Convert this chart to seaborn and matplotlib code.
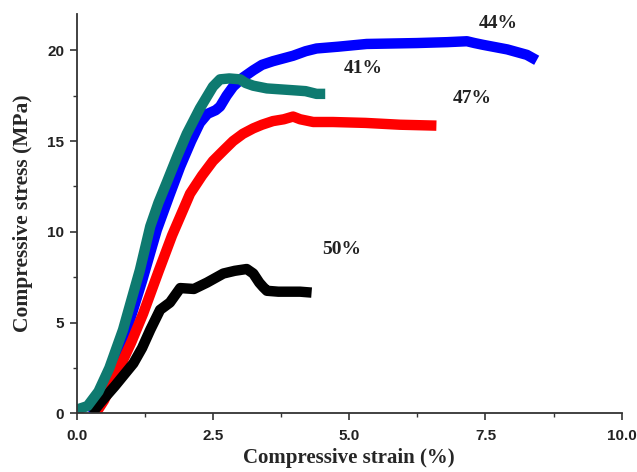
import matplotlib
matplotlib.use("Agg")
import matplotlib.pyplot as plt
from matplotlib.ticker import MultipleLocator, FormatStrFormatter
import pandas as pd
import seaborn as sns

# ── Data (strain %, stress MPa) ────────────────────────────────
strain_44 = [0.25, 0.4, 0.6, 0.9, 1.2, 1.47, 1.7, 1.9, 2.1, 2.26, 2.4, 2.55,
             2.63, 2.75, 2.87, 3.05, 3.24, 3.4, 3.6, 3.97, 4.2, 4.4, 4.8,
             5.32, 6.24, 6.8, 7.16, 7.3, 7.46, 7.9, 8.26, 8.44]
stress_44 = [0.0, 0.5, 1.8, 4.4, 7.3, 10.1, 12.0, 13.6, 15.0, 16.0, 16.5, 16.7,
             16.9, 17.5, 18.0, 18.5, 18.9, 19.2, 19.4, 19.7, 19.95, 20.1, 20.2,
             20.35, 20.4, 20.45, 20.5, 20.4, 20.3, 20.05, 19.75, 19.45]

strain_47 = [0.35, 0.5, 0.74, 1.0, 1.22, 1.5, 1.75, 2.08, 2.3, 2.5, 2.7, 2.87,
             3.05, 3.24, 3.4, 3.6, 3.8, 3.97, 4.1, 4.34, 4.7, 5.3, 5.93, 6.6]
stress_47 = [0.0, 0.7, 2.2, 3.9, 5.5, 7.8, 9.8, 12.1, 13.1, 13.9, 14.5, 15.0,
             15.4, 15.7, 15.9, 16.1, 16.2, 16.35, 16.2, 16.05, 16.05, 16.0,
             15.9, 15.85]

strain_50 = [0.28, 0.43, 0.7, 1.04, 1.2, 1.35, 1.53, 1.62, 1.71, 1.9, 2.15,
             2.39, 2.69, 2.9, 3.12, 3.24, 3.35, 3.42, 3.49, 3.7, 4.1, 4.31]
stress_50 = [0.0, 0.57, 1.5, 2.75, 3.6, 4.6, 5.7, 5.9, 6.1, 6.9, 6.85,
             7.2, 7.7, 7.85, 7.95, 7.7, 7.2, 6.96, 6.75, 6.7, 6.7, 6.65]

strain_41 = [0.0, 0.2, 0.4, 0.6, 0.85, 1.0, 1.16, 1.35, 1.5, 1.65, 1.85, 2.02,
             2.26, 2.4, 2.5, 2.63, 2.8, 3.0, 3.1, 3.24, 3.49, 3.97, 4.2, 4.4,
             4.56]
stress_41 = [0.2, 0.4, 1.2, 2.5, 4.6, 6.2, 7.9, 10.3, 11.6, 12.7, 14.2, 15.4,
             16.8, 17.5, 18.0, 18.4, 18.45, 18.4, 18.2, 18.05, 17.9, 17.8,
             17.75, 17.6, 17.6]

series_labels = ["44%", "47%", "50%", "41%"]
series_colors = ["#0000FF", "#FF0000", "#000000", "#0E7A70"]
label_pos = [(7.73, 21.5), (7.25, 17.35), (4.86, 9.0), (5.26, 19.0)]

df = pd.concat([
    pd.DataFrame({"strain": strain_44, "stress": stress_44, "sample": "44%"}),
    pd.DataFrame({"strain": strain_47, "stress": stress_47, "sample": "47%"}),
    pd.DataFrame({"strain": strain_50, "stress": stress_50, "sample": "50%"}),
    pd.DataFrame({"strain": strain_41, "stress": stress_41, "sample": "41%"}),
], ignore_index=True)

sns.set_style("ticks")

fig = plt.figure(figsize=(6.37, 4.72), dpi=100)
ax = fig.add_axes([0.1204, 0.1244, 0.8556, 0.8459])

# blue first, teal last so it sits on top (as in the reference)
for name, color in zip(series_labels, series_colors):
    sub = df[df["sample"] == name]
    sns.lineplot(data=sub, x="strain", y="stress", color=color, ax=ax,
                 sort=False, estimator=None, lw=7.5,
                 solid_capstyle="butt", solid_joinstyle="round")

for name, (tx, ty) in zip(series_labels, label_pos):
    ax.text(tx, ty, name, ha="center", va="center", fontsize=14,
            fontweight="bold", family="Liberation Serif", color="#222222")

ax.set_xlim(0, 10)
ax.set_ylim(0, 22)
ax.xaxis.set_major_locator(MultipleLocator(2.5))
ax.xaxis.set_minor_locator(MultipleLocator(1.25))
ax.yaxis.set_major_locator(MultipleLocator(5))
ax.yaxis.set_minor_locator(MultipleLocator(2.5))
ax.xaxis.set_major_formatter(FormatStrFormatter("%.1f"))
ax.tick_params(which="major", direction="out", length=5, width=1.2,
               labelsize=11, color="#333333")
ax.tick_params(axis="x", which="major", pad=6)
ax.tick_params(axis="y", which="major", pad=4)
ax.tick_params(which="minor", direction="out", length=3, width=1.0,
               color="#333333")
for lbl in ax.get_xticklabels() + ax.get_yticklabels():
    lbl.set_fontweight("bold")
    lbl.set_family("Liberation Sans")
    lbl.set_color("#222222")

sns.despine(ax=ax)
for s in ("left", "bottom"):
    ax.spines[s].set_linewidth(1.3)
    ax.spines[s].set_color("#333333")

ax.set_xlabel("Compressive strain (%)", fontsize=15, fontweight="bold",
              family="Liberation Serif", labelpad=4)
ax.set_ylabel("Compressive stress (MPa)", fontsize=15.5, fontweight="bold",
              family="Liberation Serif", labelpad=10)

fig.savefig("out.png", dpi=100)
plt.close(fig)
